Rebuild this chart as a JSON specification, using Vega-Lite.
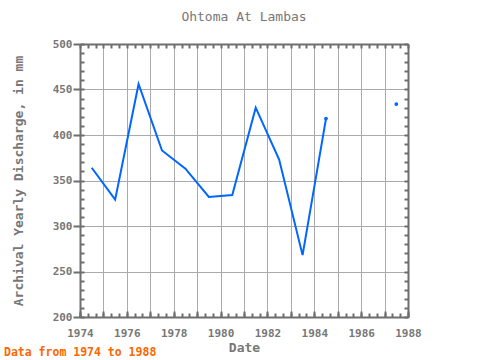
{
  "$schema": "https://vega.github.io/schema/vega-lite/v6.json",
  "width": 328,
  "height": 273,
  "autosize": {"type": "none"},
  "padding": {"left": 80, "top": 44, "right": 72, "bottom": 43},
  "background": "white",
  "title": {"text": "Ohtoma At Lambas", "font": "DejaVu Sans Mono", "fontSize": 13, "fontWeight": "normal", "color": "#777777", "offset": 14, "anchor": "middle"},
  "config": {
    "view": {"stroke": null},
    "axis": {"labelFont": "DejaVu Sans Mono", "labelFontSize": 11, "labelFontWeight": "bold", "labelColor": "#777777", "titleFont": "DejaVu Sans Mono", "titleFontSize": 13, "titleFontWeight": "bold", "titleColor": "#777777", "domainColor": "#6e6e6e", "domainWidth": 2, "tickColor": "#6e6e6e", "tickWidth": 2, "gridColor": "#aaaaaa", "gridWidth": 1, "labelOverlap": false, "labelFlush": false, "labelBound": false, "tickCount": 200}
  },
  "datasets": {
    "flow": [
      {"year": 1974.5, "discharge": 364, "seg": 1},
      {"year": 1975.5, "discharge": 329, "seg": 1},
      {"year": 1976.5, "discharge": 456, "seg": 1},
      {"year": 1977.5, "discharge": 383, "seg": 1},
      {"year": 1978.5, "discharge": 363, "seg": 1},
      {"year": 1979.5, "discharge": 332, "seg": 1},
      {"year": 1980.5, "discharge": 334, "seg": 1},
      {"year": 1981.5, "discharge": 430, "seg": 1},
      {"year": 1982.5, "discharge": 373, "seg": 1},
      {"year": 1983.5, "discharge": 268, "seg": 1},
      {"year": 1984.5, "discharge": 418, "seg": 1},
      {"year": 1987.5, "discharge": 434, "seg": 2}
    ],
    "note": [{"year": 1974, "discharge": 200, "text": "Data from 1974 to 1988"}]
  },
  "layer": [
    {
      "data": {"name": "note"},
      "mark": {"type": "text", "font": "DejaVu Sans Mono", "fontSize": 11.5, "fontWeight": "bold", "color": "#ff6600", "align": "left", "baseline": "alphabetic", "dx": -76, "dy": 39},
      "encoding": {
        "x": {"field": "year", "type": "quantitative", "scale": {"domain": [1974, 1988], "nice": false, "zero": false},
          "axis": {"orient": "bottom", "title": null, "labels": false, "grid": false, "domain": false, "tickSize": -4,
            "values": [1974,1974.3333,1974.6667,1975,1975.3333,1975.6667,1976,1976.3333,1976.6667,1977,1977.3333,1977.6667,1978,1978.3333,1978.6667,1979,1979.3333,1979.6667,1980,1980.3333,1980.6667,1981,1981.3333,1981.6667,1982,1982.3333,1982.6667,1983,1983.3333,1983.6667,1984,1984.3333,1984.6667,1985,1985.3333,1985.6667,1986,1986.3333,1986.6667,1987,1987.3333,1987.6667,1988]}},
        "y": {"field": "discharge", "type": "quantitative", "scale": {"domain": [200, 500], "nice": false, "zero": false},
          "axis": {"orient": "left", "title": null, "labels": false, "grid": false, "domain": false, "tickSize": -4,
            "values": [200,210,220,230,240,250,260,270,280,290,300,310,320,330,340,350,360,370,380,390,400,410,420,430,440,450,460,470,480,490,500]}},
        "text": {"field": "text"}
      }
    },
    {
      "data": {"name": "flow"},
      "mark": {"type": "line", "color": "#0066ff", "strokeWidth": 2},
      "encoding": {
        "x": {"field": "year", "type": "quantitative",
          "axis": {"orient": "bottom", "title": "Date", "titlePadding": 3, "format": "d", "tickSize": -6, "labelPadding": 16, "grid": true,
            "values": [1974,1975,1976,1977,1978,1979,1980,1981,1982,1983,1984,1985,1986,1987,1988],
            "labelExpr": "(datum.value % 2 == 0) ? datum.label : ''"}},
        "y": {"field": "discharge", "type": "quantitative",
          "axis": {"orient": "left", "title": "Archival Yearly Discharge, in mm", "titlePadding": 27, "tickSize": 7, "labelPadding": 1, "grid": true,
            "values": [200,250,300,350,400,450,500]}},
        "detail": {"field": "seg"}
      }
    },
    {
      "data": {"name": "flow"},
      "transform": [{"filter": "datum.year >= 1984"}],
      "mark": {"type": "point", "filled": true, "color": "#0066ff", "size": 14, "opacity": 1},
      "encoding": {
        "x": {"field": "year", "type": "quantitative",
          "axis": {"orient": "top", "title": null, "labels": false, "grid": false, "tickSize": -4,
            "values": [1974,1974.3333,1974.6667,1975,1975.3333,1975.6667,1976,1976.3333,1976.6667,1977,1977.3333,1977.6667,1978,1978.3333,1978.6667,1979,1979.3333,1979.6667,1980,1980.3333,1980.6667,1981,1981.3333,1981.6667,1982,1982.3333,1982.6667,1983,1983.3333,1983.6667,1984,1984.3333,1984.6667,1985,1985.3333,1985.6667,1986,1986.3333,1986.6667,1987,1987.3333,1987.6667,1988]}},
        "y": {"field": "discharge", "type": "quantitative",
          "axis": {"orient": "right", "title": null, "labels": false, "grid": false, "tickSize": -4,
            "values": [200,210,220,230,240,250,260,270,280,290,300,310,320,330,340,350,360,370,380,390,400,410,420,430,440,450,460,470,480,490,500]}}
      }
    }
  ],
  "resolve": {"axis": {"x": "independent", "y": "independent"}}
}
